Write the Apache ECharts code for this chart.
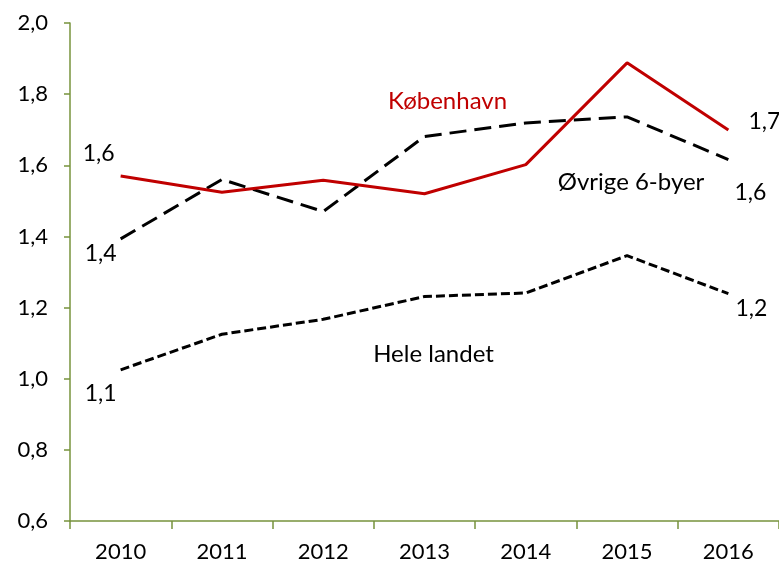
<!DOCTYPE html>
<html>
<head>
<meta charset="utf-8">
<script src="https://cdn.jsdelivr.net/npm/echarts@6/dist/echarts.min.js"></script>
<style>
  html, body { margin: 0; padding: 0; background: #fff; }
  #chart { width: 779px; height: 565px; }
</style>
</head>
<body>
<div id="chart"></div>
<script>
const years = ['2010', '2011', '2012', '2013', '2014', '2015', '2016']
const kobenhavn = [1.57, 1.524, 1.558, 1.52, 1.602, 1.888, 1.699]
const ovrige = [1.393, 1.56, 1.47, 1.681, 1.719, 1.736, 1.616]
const heleLandet = [1.025, 1.125, 1.167, 1.231, 1.241, 1.346, 1.239]
// labels shown at the ends of each line
const kbhLabels = ['1,6', '1,7']
const ovrLabels = ['1,4', '1,6']
const heleLabels = ['1,1', '1,2']

const font = 'Lato'
const fs = 22
const axisColor = '#77933C'

function withEndLabels(values, labels, startOffset, endOffset) {
  return values.map((v, i) => {
    if (i === 0) {
      return { value: v, label: { show: true, formatter: labels[0], offset: startOffset } }
    }
    if (i === values.length - 1) {
      return { value: v, label: { show: true, formatter: labels[1], offset: endOffset } }
    }
    return v
  })
}

const baseLabel = {
  show: false,
  position: 'inside',
  color: '#000',
  fontFamily: font,
  fontSize: 23
}

function nameMark(name, coord, color, offset) {
  return {
    symbol: 'circle',
    symbolSize: 0,
    label: { show: true, position: 'inside', color: color, fontFamily: font, fontSize: 24, formatter: '{b}', offset: offset },
    data: [{ name: name, coord: coord }]
  }
}

let option = {
  animation: false,
  grid: { left: 70, top: 23, bottom: 44, width: 714 },
  xAxis: {
    type: 'category',
    data: years,
    boundaryGap: true,
    axisLine: { lineStyle: { color: axisColor, width: 1.5 } },
    axisTick: { show: true, length: 8, lineStyle: { color: axisColor, width: 1.5 } },
    axisLabel: { color: '#000', fontFamily: font, fontSize: fs, margin: 20 }
  },
  yAxis: {
    type: 'value',
    min: 0.6,
    max: 2.0,
    interval: 0.2,
    splitLine: { show: false },
    axisLine: { show: true, lineStyle: { color: axisColor, width: 1.5 } },
    axisTick: { show: true, length: 6, lineStyle: { color: axisColor, width: 1.5 } },
    axisLabel: {
      color: '#000', fontFamily: font, fontSize: fs, margin: 22,
      formatter: v => v.toFixed(1).replace('.', ',')
    }
  },
  series: [
    {
      name: 'Hele landet',
      type: 'line',
      symbol: 'circle',
      symbolSize: 0,
      lineStyle: { color: '#000', width: 3, type: [9, 4] },
      label: baseLabel,
      data: withEndLabels(heleLandet, heleLabels, [-20, 24], [23, 15]),
      markPoint: nameMark('Hele landet', ['2013', 1.07], '#000', [9, 0])
    },
    {
      name: 'Øvrige 6-byer',
      type: 'line',
      symbol: 'circle',
      symbolSize: 0,
      lineStyle: { color: '#000', width: 3, type: [17, 8] },
      label: baseLabel,
      data: withEndLabels(ovrige, ovrLabels, [-20, 15], [22, 33]),
      markPoint: nameMark('Øvrige 6-byer', ['2015', 1.56], '#000', [4, 3])
    },
    {
      name: 'København',
      type: 'line',
      symbol: 'circle',
      symbolSize: 0,
      lineStyle: { color: '#C00000', width: 3 },
      label: baseLabel,
      data: withEndLabels(kobenhavn, kbhLabels, [-22, -22], [36, -8]),
      markPoint: nameMark('København', ['2013', 1.78], '#C00000', [23, 0])
    }
  ]
}

let myChart = echarts.init(document.getElementById('chart'))
myChart.setOption(option)
</script>
</body>
</html>
